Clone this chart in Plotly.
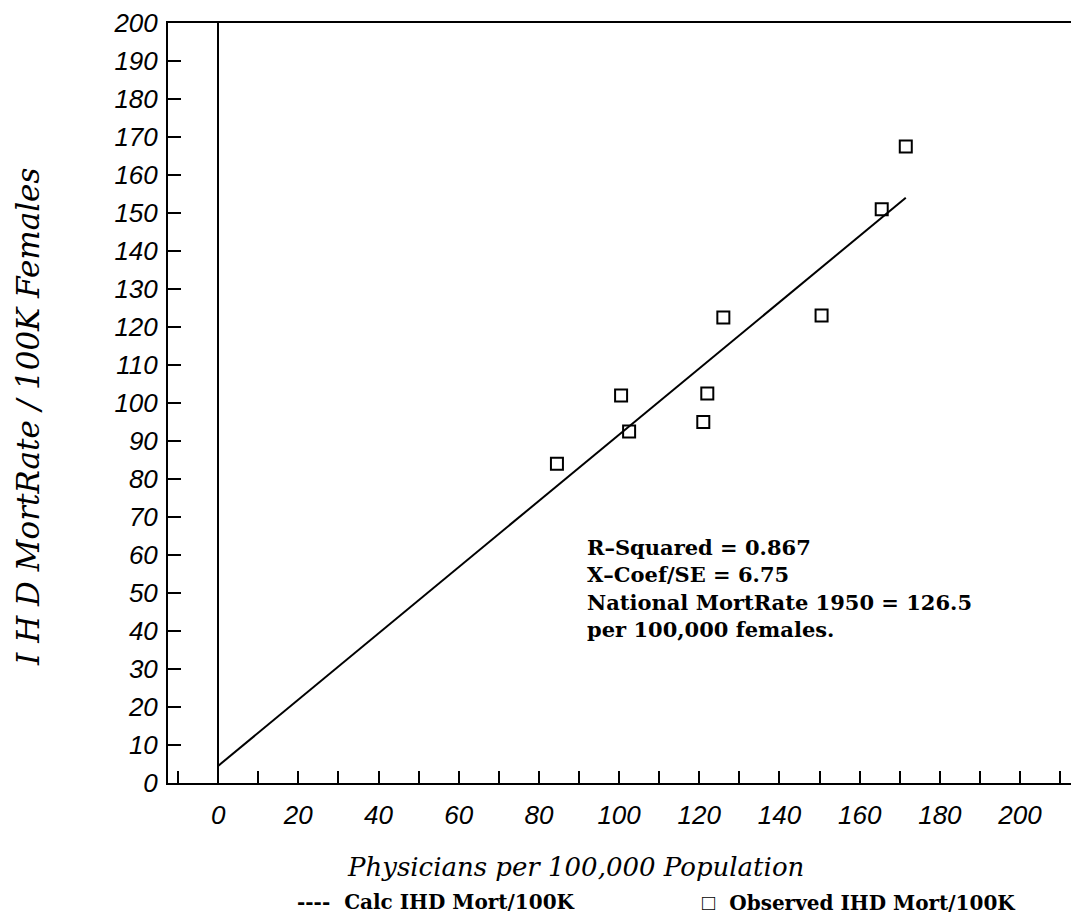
import plotly.graph_objects as go

phys = [84.5, 100.5, 102.5, 121.0, 122.0, 126.0, 150.5, 165.5, 171.5]
mort = [84.0, 102.0, 92.5, 95.0, 102.5, 122.5, 123.0, 151.0, 167.5]

# Calculated regression line end points
calc_x = [0, 171.5]
calc_y = [4.5, 154.0]

x_tickvals = list(range(0, 201, 20))
y_tickvals = list(range(0, 201, 10))

stats_lines = [
    "R\u2013Squared = 0.867",
    "X\u2013Coef/SE = 6.75",
    "National MortRate 1950 = 126.5",
    "per 100,000 females.",
]

legend_labels = ["Calc IHD Mort/100K", "Observed IHD Mort/100K"]

# page body has an 8px margin: size the figure to fill the rest of the window
OFF = 8
W, H = 1079 - OFF, 923 - OFF
PL, PT, PB = 168, 19, 783          # plot-area edges in window pixels
L, T = PL - OFF, PT - OFF
pw, ph = 1079 - PL, PB - PT
B = H - T - ph


def px(xp):
    return (xp - PL) / pw


def py(yp):
    return (PB - yp) / ph


serif = "DejaVu Serif"
fig = go.Figure()
fig.add_trace(go.Scatter(
    x=calc_x, y=calc_y, mode="lines", name=legend_labels[0],
    line=dict(color="black", width=2)))
fig.add_trace(go.Scatter(
    x=phys, y=mort, mode="markers", name=legend_labels[1],
    marker=dict(symbol="square-open", size=12, color="black",
                line=dict(width=2, color="black"))))

fig.add_annotation(x=px(585), y=py(587), xref="paper", yref="paper",
                   text="<br>".join(stats_lines), align="left",
                   showarrow=False, xanchor="left", yanchor="middle",
                   font=dict(family=serif, size=21, color="black", weight="bold"))

# legend-like captions under the axis title
fig.add_annotation(x=px(295), y=py(903), xref="paper", yref="paper",
                   text="----\u00a0\u00a0" + legend_labels[0], showarrow=False,
                   xanchor="left", yanchor="middle",
                   font=dict(family=serif, size=20, color="black", weight="bold"))
fig.add_annotation(x=px(700), y=py(903), xref="paper", yref="paper",
                   text="<span style='font-family:Liberation Serif;font-weight:normal;font-size:22px'>\u25a1</span>"
                        "\u00a0\u00a0" + legend_labels[1],
                   showarrow=False, xanchor="left", yanchor="middle",
                   font=dict(family=serif, size=20, color="black", weight="bold"))

fig.add_annotation(x=px(575), y=py(867), xref="paper", yref="paper",
                   text="Physicians per 100,000 Population", showarrow=False,
                   xanchor="center", yanchor="middle",
                   font=dict(family="DejaVu Serif", size=26, color="black", style="italic"))
fig.add_annotation(x=px(28), y=py(415), xref="paper", yref="paper",
                   text="I H D MortRate / 100K Females", showarrow=False, textangle=-90,
                   xanchor="center", yanchor="middle",
                   font=dict(family="DejaVu Serif", size=31, color="black", style="italic"))

fig.update_layout(
    width=W, height=H,
    margin=dict(l=L, r=0, t=T, b=B, pad=0),
    plot_bgcolor="white", paper_bgcolor="white",
    showlegend=False,
)
fig.update_xaxes(
    range=[-12.5, 214.7], showgrid=False,
    showline=True, mirror=True, linecolor="black", linewidth=2,
    zeroline=True, zerolinecolor="black", zerolinewidth=2,
    tickmode="array", tickvals=x_tickvals, ticktext=[str(v) for v in x_tickvals],
    ticks="inside", ticklen=12, tickwidth=2, tickcolor="black",
    minor=dict(dtick=10, tick0=0, ticks="inside", ticklen=12, tickwidth=2, tickcolor="black"),
    ticklabelstandoff=8, ticklabeloverflow="allow",
    tickfont=dict(family="Liberation Sans", size=26, color="black", style="italic"),
)
fig.update_yaxes(
    range=[0, 200], showgrid=False,
    showline=True, mirror=False, linecolor="black", linewidth=2,
    zeroline=False,
    tickmode="array", tickvals=y_tickvals, ticktext=[str(v) for v in y_tickvals],
    ticks="inside", ticklen=13, tickwidth=2, tickcolor="black",
    ticklabelstandoff=3, ticklabeloverflow="allow",
    tickfont=dict(family="Liberation Sans", size=26, color="black", style="italic"),
)

fig.write_html("out.html")
